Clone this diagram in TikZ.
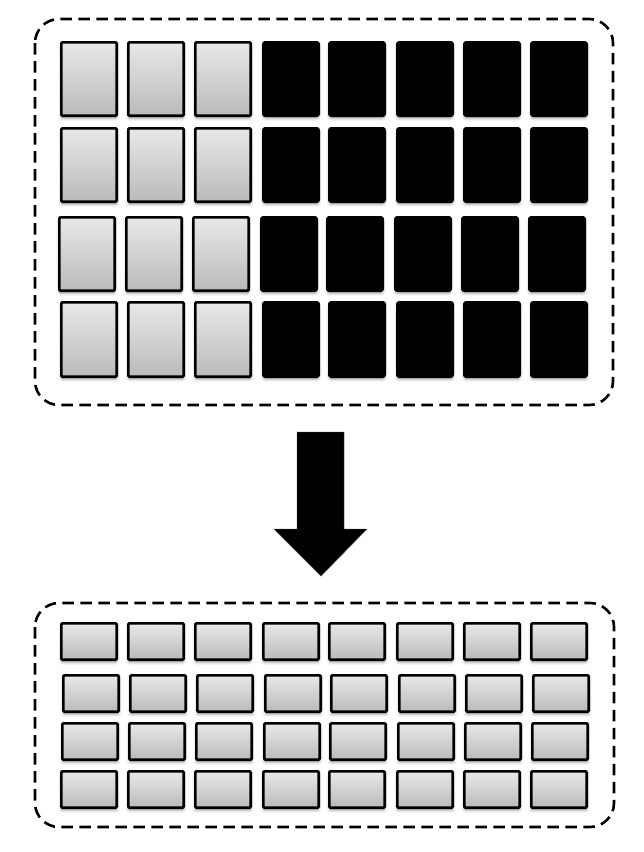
\documentclass[tikz,border=0pt]{standalone}
\usetikzlibrary{shadows.blur}
\tikzset{
  frame/.style={draw=black, line width=2.6pt, dash pattern=on 11.5pt off 6.5pt, rounded corners=24pt},
  cellshadow/.style={blur shadow={shadow xshift=0pt, shadow yshift=-2.5pt, shadow blur radius=3pt, shadow opacity=40}},
  graycell/.style={draw=black, line width=2.7pt, rounded corners=1pt, top color=black!9, bottom color=black!27, inner sep=0pt, cellshadow},
  blackcell/.style={draw=black, fill=black, line width=2.7pt, rounded corners=2pt, inner sep=0pt, cellshadow},
  bigarrow/.style={fill=black, draw=black!70, line width=0.4pt}
}
\begin{document}
\begin{tikzpicture}[x=1pt, y={(0pt,-1pt)}]
\useasboundingbox (0,0) rectangle (644,852);
% frames
\draw[frame] (35,19) rectangle (613,405);
\node[inner sep=0pt] (topframe) at (324,212) {};
\draw[frame] (35,603) rectangle (614,827);
\node[inner sep=0pt] (bottomframe) at (324,715) {};
% top cells
\foreach \r/\ya/\yb/\dx in {1/41/117/0, 2/127/203/0, 3/216/292/-2, 4/301/378/0} {
  \foreach \c/\xa in {1/60,2/127,3/194} {
    \node[graycell, minimum width=55.3pt, minimum height={\yb-\ya-2.7}] (t\r\c) at ({\xa+\dx+29},{(\ya+\yb)/2}) {};
  }
  \foreach \c/\xa in {4/262,5/328,6/396,7/463,8/530} {
    \node[blackcell, minimum width=55.3pt, minimum height={\yb-\ya-2.7}] (t\r\c) at ({\xa+\dx+29},{(\ya+\yb)/2}) {};
  }
}
% bottom cells
\foreach \r/\ya/\yb/\dx in {1/622/661/0, 2/674/713/2, 3/722/761/1, 4/770/809/0} {
  \foreach \c/\xa in {1/60,2/127,3/194,4/262,5/328,6/396,7/463,8/530} {
    \node[graycell, minimum width=55.3pt, minimum height={\yb-\ya-2.7}] (b\r\c) at ({\xa+\dx+29},{(\ya+\yb)/2}) {};
  }
}
% arrow
\draw[bigarrow] (297,432) -- (344,432) -- (344,529) -- (367,529) -- (321,576) -- (274,529) -- (297,529) -- cycle;
\end{tikzpicture}
\end{document}
